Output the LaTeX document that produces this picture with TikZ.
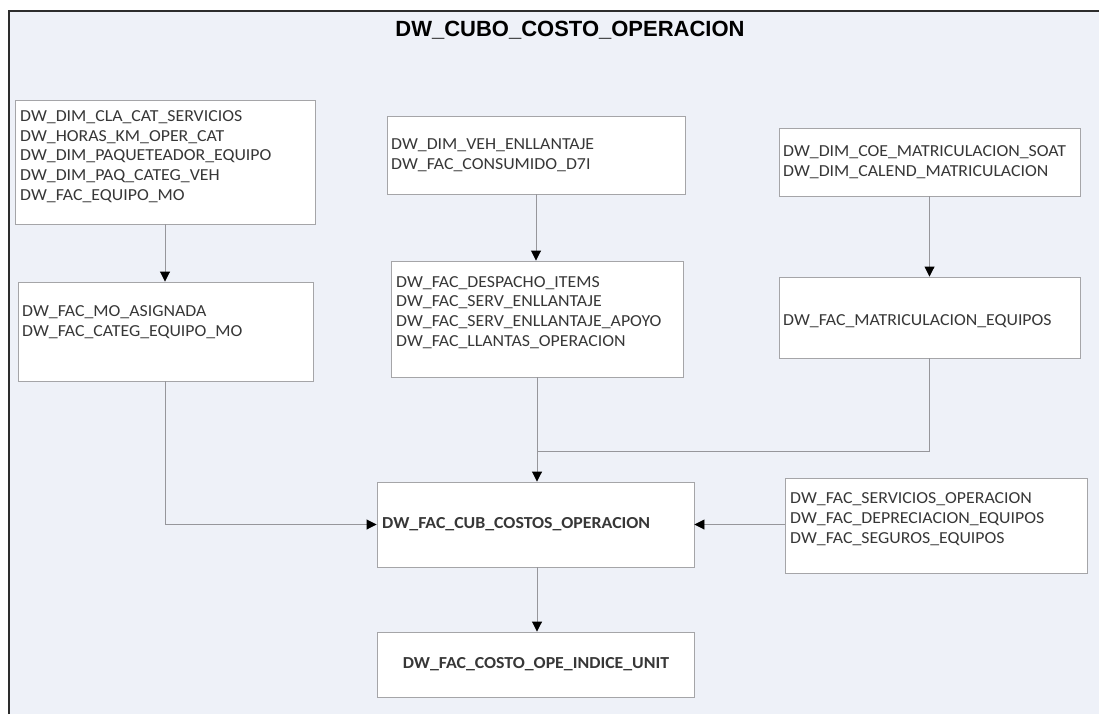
\documentclass[tikz,border=0pt]{standalone}
\usepackage{fontspec}
\setmainfont{Carlito}[FakeStretch=1.06]
\newfontfamily\titlefont{Liberation Sans}
\usetikzlibrary{arrows.meta}
\definecolor{panelbg}{RGB}{238,241,248}
\definecolor{framec}{RGB}{45,45,45}
\definecolor{boxline}{RGB}{165,165,168}
\definecolor{wirec}{RGB}{150,150,155}
\definecolor{txtc}{RGB}{55,55,55}
\tikzset{
  tbl/.style={draw=boxline, line width=0.9pt, fill=white, inner sep=0pt},
  lst/.style={anchor=west, align=left, inner sep=0pt, text=txtc,
              font=\fontsize{16.8}{19.7}\selectfont},
  hdr/.style={lst, font=\fontsize{16.8}{19.7}\selectfont\bfseries},
  wire/.style={draw=wirec, line width=0.9pt,
               -{Triangle[width=10pt,length=10pt,color=black]}},
  plain/.style={draw=wirec, line width=0.9pt}
}
\begin{document}
\begin{tikzpicture}[x=1pt, y=-1pt]
  \useasboundingbox (0,0) rectangle (1099,714);
  % panel background and frame
  \fill[white] (0,0) rectangle (1099,714);
  \fill[panelbg] (9,11) rectangle (1099,714);
  \draw[framec, line width=2pt] (9,714) -- (9,11) -- (1099,11);
  \node[font=\titlefont\fontsize{22}{26}\selectfont\bfseries, text=black] (title) at (570,30) {DW\_CUBO\_COSTO\_OPERACION};

  % tables
  \node[tbl, minimum width=300pt, minimum height=124pt] (A) at (165,162) {};
  \node[tbl, minimum width=295pt, minimum height=99pt]  (B) at (165.5,331.5) {};
  \node[tbl, minimum width=298pt, minimum height=78pt]  (C) at (536,155) {};
  \node[tbl, minimum width=292pt, minimum height=116pt] (D) at (537,319) {};
  \node[tbl, minimum width=301pt, minimum height=68pt]  (E) at (929.5,162) {};
  \node[tbl, minimum width=301pt, minimum height=81pt]  (F) at (929.5,317.5) {};
  \node[tbl, minimum width=317pt, minimum height=85pt]  (G) at (535.5,524.5) {};
  \node[tbl, minimum width=317pt, minimum height=65pt]  (H) at (535.5,664.5) {};
  \node[tbl, minimum width=302pt, minimum height=95pt]  (I) at (936,525.5) {};

  % table contents
  \node[lst] (At) at (20,156.5) {DW\_DIM\_CLA\_CAT\_SERVICIOS\\DW\_HORAS\_KM\_OPER\_CAT\\DW\_DIM\_PAQUETEADOR\_EQUIPO\\DW\_DIM\_PAQ\_CATEG\_VEH\\DW\_FAC\_EQUIPO\_MO};
  \node[lst] (Bt) at (22,322) {DW\_FAC\_MO\_ASIGNADA\\DW\_FAC\_CATEG\_EQUIPO\_MO};
  \node[lst] (Ct) at (391,155.5) {DW\_DIM\_VEH\_ENLLANTAJE\\DW\_FAC\_CONSUMIDO\_D7I};
  \node[lst] (Dt) at (396,312.5) {DW\_FAC\_DESPACHO\_ITEMS\\DW\_FAC\_SERV\_ENLLANTAJE\\DW\_FAC\_SERV\_ENLLANTAJE\_APOYO\\DW\_FAC\_LLANTAS\_OPERACION};
  \node[lst] (Et) at (783,162.5) {DW\_DIM\_COE\_MATRICULACION\_SOAT\\DW\_DIM\_CALEND\_MATRICULACION};
  \node[lst] (Ft) at (783,321) {DW\_FAC\_MATRICULACION\_EQUIPOS};
  \node[hdr] (Gt) at (382,524) {DW\_FAC\_CUB\_COSTOS\_OPERACION};
  \node[hdr, anchor=center] (Ht) at (536,664) {DW\_FAC\_COSTO\_OPE\_INDICE\_UNIT};
  \node[lst] (It) at (790,519) {DW\_FAC\_SERVICIOS\_OPERACION\\DW\_FAC\_DEPRECIACION\_EQUIPOS\\DW\_FAC\_SEGUROS\_EQUIPOS};

  % connectors
  \coordinate (join) at (537,451);
  \draw[wire] (A.south) -- (A.south |- B.north);
  \draw[wire] (C.south) -- (C.south |- D.north);
  \draw[wire] (E.south) -- (E.south |- F.north);
  \draw[wire] (B.south) |- (G.west);
  \draw[wire] (D.south) -- (D.south |- G.north);
  \draw[plain] (F.south) |- (join);
  \draw[wire] (I.west |- G.east) -- (G.east);
  \draw[wire] (G.south -| D.south) -- (D.south |- H.north);
\end{tikzpicture}
\end{document}
